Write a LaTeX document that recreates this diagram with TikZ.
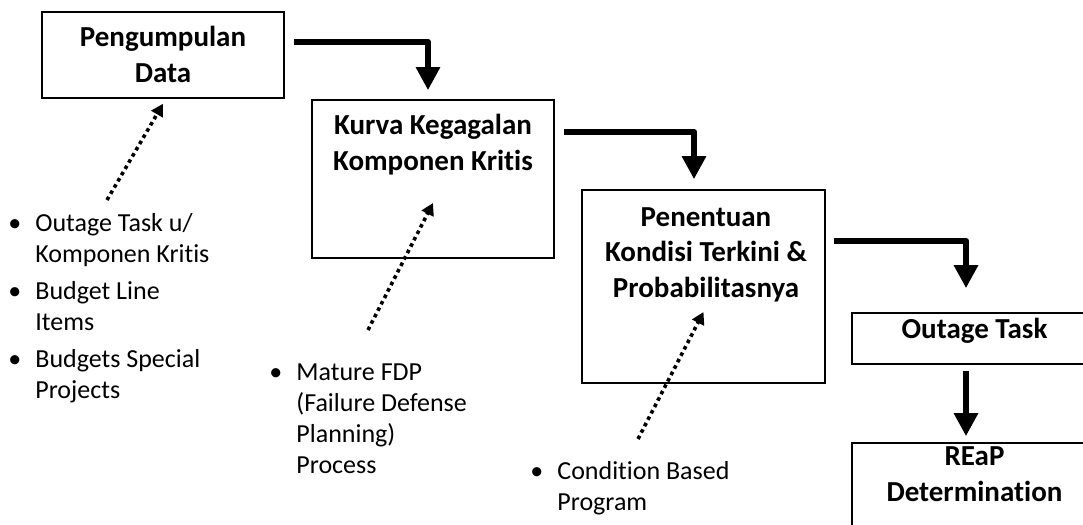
\documentclass[tikz,border=0pt]{standalone}
\usepackage{fontspec}
\setmainfont{Carlito}[Ligatures=NoCommon]
\usetikzlibrary{arrows.meta}
\newcommand\blt{\makebox[13.5pt][l]{•}}
\newcommand\ind{\hspace*{13.5pt}}
\begin{document}
\begin{tikzpicture}[x=0.5pt,y=-0.5pt,
  box/.style={draw, line width=0.8pt, inner sep=0pt, rectangle},
  title/.style={font=\fontsize{14.5}{17.75}\selectfont\bfseries, align=center, anchor=base, inner sep=0pt},
  note/.style={font=\fontsize{13}{15.5}\selectfont, align=left, anchor=base west, inner sep=0pt},
  flow/.style={line width=3.3pt, line join=round, -{Triangle[width=11.5pt,length=11.5pt]}},
  hint/.style={line width=1.8pt, dash pattern=on 1.8pt off 1.8pt, -{Triangle[width=6.5pt,length=6pt]}}]
\useasboundingbox (0,0) rectangle (1083,525);

% boxes
\node[box, minimum width=121pt, minimum height=43pt] (b1) at (163,55) {};
\node[box, minimum width=121pt, minimum height=79pt] (b2) at (433,179) {};
\node[box, minimum width=121.5pt, minimum height=96.5pt] (b3) at (703.5,286.5) {};
\node[box, minimum width=122.5pt, minimum height=25.5pt] (b4) at (974.5,338.5) {};
\node[box, minimum width=122.5pt, minimum height=51pt] (b5) at (974.5,494) {};

% box texts (anchor = baseline of the last line)
\node[title] (t1) at ([yshift=-35.5pt]b1.north) {Pengumpulan\\Data};
\node[title] (t2) at ([yshift=-35.5pt]b2.north) {Kurva Kegagalan\\Komponen Kritis};
\node[title] (t3) at ([xshift=1.25pt,yshift=-54pt]b3.north) {Penentuan\\Kondisi Terkini \&\\Probabilitasnya};
\node[title] (t4) at ([yshift=-13pt]b4.north) {Outage Task};
\node[title] (t5) at ([yshift=-29.5pt]b5.north) {REaP\\Determination};

% main flow
\draw[flow] ([xshift=4.5pt,yshift=6.5pt]b1.east) -| ([xshift=-2.5pt,yshift=4.5pt]b2.north);
\draw[flow] ([xshift=4.5pt,yshift=23.5pt]b2.east) -| ([xshift=-4.75pt,yshift=5pt]b3.north);
\draw[flow] ([xshift=4pt,yshift=22.75pt]b3.east) -| ([xshift=-4.25pt,yshift=12pt]b4.north);
\draw[flow] ([xshift=-4.25pt,yshift=-3pt]b4.south) -- ([xshift=-4.25pt,yshift=3pt]b5.north);

% input lists (anchor = baseline of the last line)
\node[note] (l1) at (8,398) {\blt Outage Task u/\\\ind Komponen Kritis\\[3pt]\blt Budget Line\\\ind Items\\[3pt]\blt Budgets Special\\\ind Projects};
\node[note] (l2) at (269,473) {\blt Mature FDP\\\ind (Failure Defense\\\ind Planning)\\\ind Process};
\node[note] (l3) at (530,510) {\blt Condition Based\\\ind Program};

% dotted inputs
\coordinate (d1) at (107,200);
\coordinate (d2) at (368,330);
\coordinate (d3) at (638,439);
\draw[hint] (d1) -- ([yshift=-2.5pt]b1.south);
\draw[hint] (d2) -- ([yshift=-12pt]b2.center);
\draw[hint] (d3) -- ([yshift=-12.75pt]b3.center);
\end{tikzpicture}
\end{document}
